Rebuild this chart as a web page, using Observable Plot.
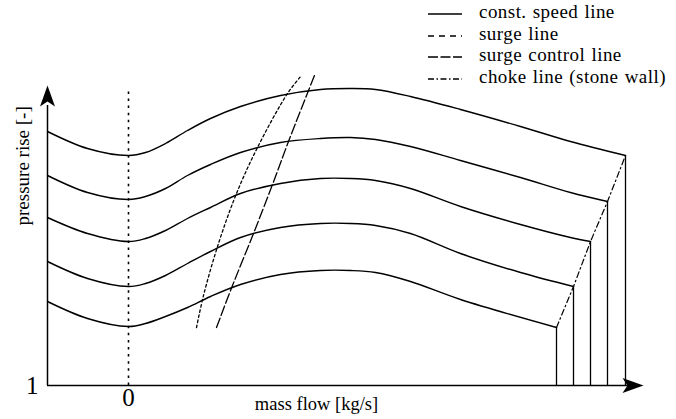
<!DOCTYPE html>
<html>
<head>
<meta charset="utf-8">
<script src="https://cdn.jsdelivr.net/npm/d3@7"></script>
<script src="https://cdn.jsdelivr.net/npm/@observablehq/plot@0.6"></script>
<style>
  html, body { margin: 0; padding: 0; background: white; }
  #wrap { position: relative; width: 676px; height: 419px; font-family: "Liberation Serif", "DejaVu Serif", serif; }
  #wrap svg.chart { position: absolute; left: 0; top: 0; }
  .lg { position: absolute; font-family: "Liberation Serif", "DejaVu Serif", serif; font-size: 19px; letter-spacing: 0.45px; word-spacing: 1px; white-space: nowrap; line-height: 20px; }
  .ls { position: absolute; }
</style>
</head>
<body>
<div id="wrap"></div>
<script>
// ---- data (mass flow x, pressure rise y) ----
const xMin = -8.1, xMax = 51.5, yMin = 1, yMax = 4;

const speed1X = [-8.1, -4.1, 0, 1.7, 3.7, 5.9, 8.2, 11.2, 15.2, 19.2, 22.2, 24.7, 28.2, 33.2, 39.2, 44.2, 49.7];
const speed1Y = [3.54, 3.37, 3.30, 3.33, 3.42, 3.55, 3.67, 3.79, 3.90, 3.96, 3.97, 3.96, 3.89, 3.76, 3.59, 3.44, 3.30];
const speed2X = [-8.1, -4.1, 0, 1.7, 3.7, 5.9, 8.2, 11.2, 15.2, 19.2, 22.2, 24.7, 28.2, 33.2, 39.2, 44.2, 47.9];
const speed2Y = [3.10, 2.93, 2.86, 2.89, 2.97, 3.10, 3.21, 3.33, 3.43, 3.47, 3.48, 3.46, 3.39, 3.25, 3.08, 2.93, 2.84];
const speed3X = [-8.1, -4.1, 0, 1.7, 3.7, 5.9, 8.2, 11.2, 15.2, 19.2, 22.2, 24.7, 28.2, 33.2, 39.2, 44.2, 46.2];
const speed3Y = [2.68, 2.52, 2.44, 2.47, 2.55, 2.67, 2.78, 2.92, 3.02, 3.07, 3.07, 3.05, 2.97, 2.79, 2.61, 2.48, 2.44];
const speed4X = [-8.1, -4.1, 0, 1.7, 3.7, 5.9, 8.2, 11.2, 15.2, 19.2, 22.2, 24.7, 28.2, 33.2, 39.2, 44.5];
const speed4Y = [2.24, 2.07, 1.99, 2.02, 2.10, 2.22, 2.34, 2.48, 2.58, 2.62, 2.62, 2.60, 2.52, 2.32, 2.13, 1.99];
const speed5X = [-8.1, -4.1, 0, 1.7, 3.7, 5.9, 8.2, 11.2, 15.2, 19.2, 22.2, 24.7, 28.2, 33.2, 42.8];
const speed5Y = [1.84, 1.67, 1.59, 1.62, 1.69, 1.78, 1.89, 2.01, 2.11, 2.15, 2.15, 2.13, 2.04, 1.86, 1.58];

const surgeX = [6.8, 7.5, 9.0, 10.8, 12.9, 15.9, 17.3];
const surgeY = [1.58, 1.90, 2.42, 2.92, 3.38, 3.92, 4.10];
const surgeCtrlX = [8.8, 10.4, 12.5, 14.4, 16.0, 18.0, 18.6];
const surgeCtrlY = [1.58, 2.00, 2.52, 3.01, 3.44, 3.95, 4.10];

const zeroLineTop = 3.97;
const xTicks = [0];
const yTicks = [1];
const xLabel = "mass flow [kg/s]";
const yLabel = "pressure rise [-]";
const legendLabels = ["const. speed line", "surge line", "surge control line", "choke line (stone wall)"];

const font = '"Liberation Serif", "DejaVu Serif", serif';

// ---- build tables ----
const speedX = [speed1X, speed2X, speed3X, speed4X, speed5X];
const speedY = [speed1Y, speed2Y, speed3Y, speed4Y, speed5Y];
const speedRows = speedX.flatMap((xs, k) => xs.map((x, i) => ({k, x, y: speedY[k][i]})));
const ends = speedX.map((xs, k) => ({x: xs[xs.length - 1], y: speedY[k][xs.length - 1]})).reverse();
const surge = surgeX.map((x, i) => ({x, y: surgeY[i]}));
const surgeCtrl = surgeCtrlX.map((x, i) => ({x, y: surgeCtrlY[i]}));

const stealth = {
  draw(ctx) {
    ctx.moveTo(0, 0);
    ctx.lineTo(7.5, 21);
    ctx.lineTo(0, 16);
    ctx.lineTo(-7.5, 21);
    ctx.closePath();
  }
};

const chart = Plot.plot({
  width: 676,
  height: 419,
  marginLeft: 47,
  marginRight: 33,
  marginTop: 85,
  marginBottom: 34,
  x: {domain: [xMin, xMax]},
  y: {domain: [yMin, yMax]},
  style: {fontFamily: font, background: "white", overflow: "visible", color: "black"},
  marks: [
    Plot.ruleX(xTicks, {y1: yMin, y2: zeroLineTop, stroke: "black", strokeWidth: 1.6, strokeDasharray: "2.5,4.6"}),
    Plot.line(speedRows, {x: "x", y: "y", z: "k", curve: "catmull-rom", stroke: "black", strokeWidth: 1.4}),
    Plot.ruleX(ends, {x: "x", y1: yMin, y2: "y", stroke: "black", strokeWidth: 1.3}),
    Plot.line(ends, {x: "x", y: "y", stroke: "black", strokeWidth: 1.2, strokeDasharray: "6,3,1.5,3"}),
    Plot.line(surge, {x: "x", y: "y", curve: "catmull-rom", stroke: "black", strokeWidth: 1.3, strokeDasharray: "2.6,2.6"}),
    Plot.line(surgeCtrl, {x: "x", y: "y", curve: "catmull-rom", stroke: "black", strokeWidth: 1.3, strokeDasharray: "10,3"}),
    Plot.ruleX([xMin], {y1: yMin, y2: yMax - 0.2, stroke: "black", strokeWidth: 1.5}),
    Plot.ruleY([yMin], {x1: xMin, x2: xMax - 0.5, stroke: "black", strokeWidth: 1.5}),
    Plot.dot([{x: xMin, y: yMax}], {x: "x", y: "y", symbol: stealth, fill: "black", stroke: "none"}),
    Plot.dot([{x: xMax, y: yMin}], {x: "x", y: "y", symbol: stealth, fill: "black", stroke: "none", rotate: 90}),
    Plot.axisX({ticks: xTicks, tickSize: 0, tickPadding: 3, fontSize: 25, fontFamily: font, label: null, tickFormat: d => String(d)}),
    Plot.axisY({ticks: yTicks, tickSize: 0, tickPadding: 9, fontSize: 25, fontFamily: font, label: null, tickFormat: d => String(d)}),
    Plot.text([xLabel], {frameAnchor: "bottom", dx: -29, dy: 24, fontSize: 18.5, fontFamily: font, fill: "black"}),
    Plot.text([yLabel], {frameAnchor: "left", rotate: -90, dx: -25, dy: -10, fontSize: 19, fontFamily: font, fill: "black"})
  ]
});
chart.classList.add("chart");
const wrap = document.getElementById("wrap");
wrap.appendChild(chart);

// ---- legend ----
const legendY = [14, 36, 57, 79];
const dashes = [null, "6,5", "10,2.5", "6,2.5,1.5,2.5"];
legendLabels.forEach((lab, i) => {
  const yc = legendY[i];
  const s = document.createElementNS("http://www.w3.org/2000/svg", "svg");
  s.setAttribute("class", "ls");
  s.setAttribute("width", 36);
  s.setAttribute("height", 6);
  s.style.left = "427px";
  s.style.top = (yc - 3) + "px";
  const l = document.createElementNS("http://www.w3.org/2000/svg", "line");
  l.setAttribute("x1", 1); l.setAttribute("x2", 35);
  l.setAttribute("y1", 3); l.setAttribute("y2", 3);
  l.setAttribute("stroke", "black"); l.setAttribute("stroke-width", 1.4);
  if (dashes[i]) l.setAttribute("stroke-dasharray", dashes[i]);
  s.appendChild(l);
  wrap.appendChild(s);
  const t = document.createElement("div");
  t.className = "lg";
  t.textContent = lab;
  t.style.left = "479px";
  t.style.top = (yc - 12) + "px";
  wrap.appendChild(t);
});
</script>
</body>
</html>
